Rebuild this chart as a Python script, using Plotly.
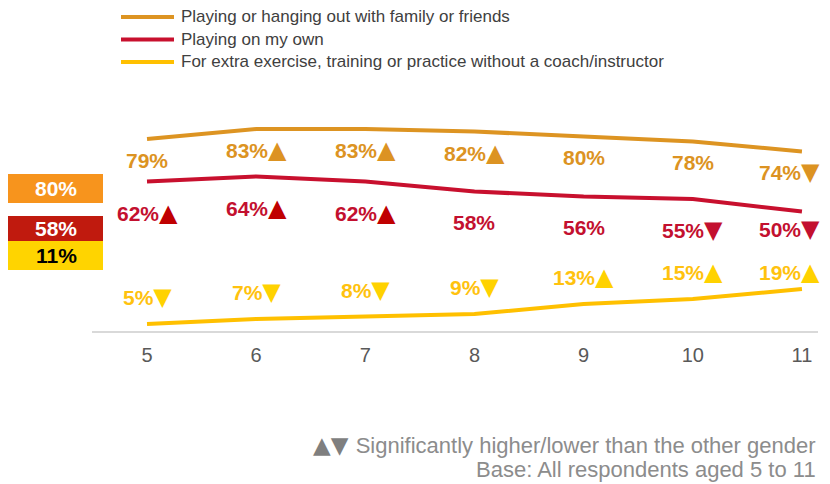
import plotly.graph_objects as go

# ---------------- data ----------------
ages = [5, 6, 7, 8, 9, 10, 11]
series_names = [
    "Playing or hanging out with family or friends",
    "Playing on my own",
    "For extra exercise, training or practice without a coach/instructor",
]
family_friends = [79, 83, 83, 82, 80, 78, 74]
on_my_own = [62, 64, 62, 58, 56, 55, 50]
extra_exercise = [5, 7, 8, 9, 13, 15, 19]
# significance vs other gender: 1 = higher, -1 = lower, 0 = none
sig_family = [0, 1, 1, 1, 0, 0, -1]
sig_own = [1, 1, 1, 0, 0, -1, -1]
sig_extra = [-1, -1, -1, -1, 1, 1, 1]
overall_values = [80, 58, 11]
footnotes = ["▲▼ Significantly higher/lower than the other gender",
             "Base: All respondents aged 5 to 11"]

# ---------------- styling ----------------
W, H = 830, 484
ML, MR, MT, MB = 92, 12, 86, 153
PW, PH = W - ML - MR, H - MT - MB
FONT = "Arial, Liberation Sans, sans-serif"
TRI = "font-family:DejaVu Sans"

line_colors = ["#dd9422", "#c8102e", "#ffc000"]
text_colors = ["#dc9322", "#c3102f", "#ffc20e"]
up_colors = ["#dc9322", "#c00000", "#ffd200"]
down_colors = ["#dc9322", "#c3102f", "#ffd200"]
label_shift = [-21, -31, 27]
last_shift = [-20, -17, 17]
box_colors = ["#f7941d", "#c01a0e", "#ffd400"]
box_text_colors = ["white", "white", "black"]


def px(x):
    return (x - ML) / PW


def py(y):
    return (H - MB - y) / PH


fig = go.Figure()
all_series = [family_friends, on_my_own, extra_exercise]
all_sig = [sig_family, sig_own, sig_extra]

for i, (name, vals) in enumerate(zip(series_names, all_series)):
    fig.add_trace(go.Scatter(
        x=ages, y=vals, mode="lines", name=name,
        line=dict(color=line_colors[i], width=4),
        showlegend=False, hoverinfo="skip",
    ))

annotations = []
for i, (vals, sig) in enumerate(zip(all_series, all_sig)):
    for j, (a, v, s) in enumerate(zip(ages, vals, sig)):
        txt = f"{v}%"
        if s == 1:
            txt += f"<span style='color:{up_colors[i]};{TRI};font-size:24px'>▲</span>"
        elif s == -1:
            txt += f"<span style='color:{down_colors[i]};{TRI};font-size:24px'>▼</span>"
        last = j == len(ages) - 1
        annotations.append(dict(
            x=a, y=v, xref="x", yref="y", text=txt, showarrow=False,
            xanchor="center", yanchor="middle",
            yshift=last_shift[i] if last else label_shift[i],
            xshift=-12 if last else 0,
            font=dict(family=FONT, size=21, color=text_colors[i], weight="bold"),
        ))

# manual legend
shapes = []
legend_y = [17, 39.5, 62]
for i, name in enumerate(series_names):
    shapes.append(dict(type="line", xref="paper", yref="paper",
                       x0=px(121), x1=px(174), y0=py(legend_y[i]), y1=py(legend_y[i]),
                       line=dict(color=line_colors[i], width=4)))
    annotations.append(dict(x=px(179), y=py(legend_y[i]), xref="paper", yref="paper",
                            text=name, showarrow=False, xanchor="left", yanchor="middle",
                            font=dict(family=FONT, size=17, color="#404040")))

# overall boxes
box_rows = [(174, 203), (216, 241), (241, 270)]
for i, v in enumerate(overall_values):
    y0, y1 = box_rows[i]
    shapes.append(dict(type="rect", xref="paper", yref="paper",
                       x0=px(8), x1=px(103), y0=py(y1), y1=py(y0),
                       fillcolor=box_colors[i], line=dict(width=0), layer="above"))
    annotations.append(dict(x=px(56), y=py((y0 + y1) / 2), xref="paper", yref="paper",
                            text=f"{v}%", showarrow=False, xanchor="center", yanchor="middle",
                            font=dict(family=FONT, size=21, color=box_text_colors[i], weight="bold")))

# footnotes
foot_texts = [f"<span style='color:#7f7f7f;{TRI};font-size:23px'>▲▼\u00a0</span>"
              + footnotes[0][3:], footnotes[1]]
for t, yy in zip(foot_texts, [445, 469]):
    annotations.append(dict(x=px(818), y=py(yy), xref="paper", yref="paper",
                            text=t, showarrow=False, xanchor="right", yanchor="middle",
                            font=dict(family=FONT, size=22, color="#8c8c8c")))

fig.update_layout(
    width=W, height=H,
    margin=dict(l=ML, r=MR, t=MT, b=MB),
    paper_bgcolor="white", plot_bgcolor="white",
    showlegend=False,
    shapes=shapes, annotations=annotations,
    xaxis=dict(range=[4.496, 11.147], tickvals=ages, ticktext=[str(a) for a in ages],
               showgrid=False, zeroline=False, showline=True, linecolor="#d9d9d9",
               linewidth=2, ticks="", ticklabelstandoff=5,
               tickfont=dict(family=FONT, size=20, color="#595959")),
    yaxis=dict(range=[2.2, 100.2], visible=False, showgrid=False, zeroline=False),
)

fig.write_html("out.html")
